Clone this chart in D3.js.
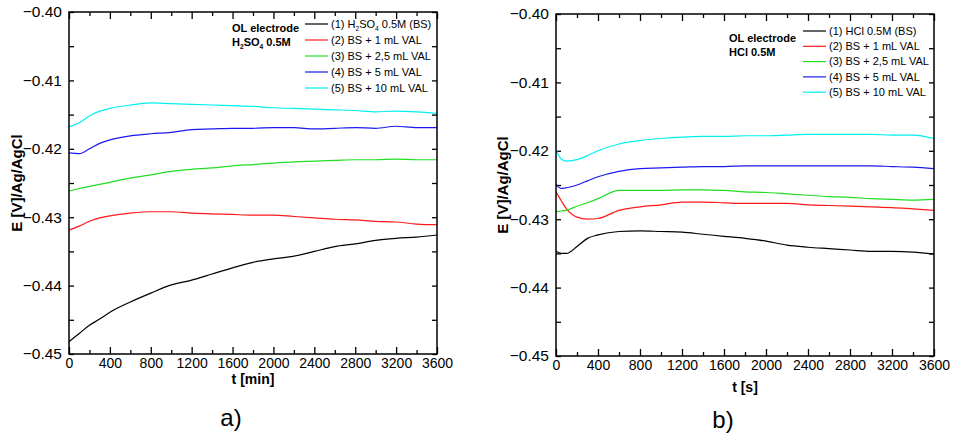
<!DOCTYPE html>
<html>
<head>
<meta charset="utf-8">
<script src="https://cdn.jsdelivr.net/npm/d3@7"></script>
<style>
  body { margin: 0; background: #fff; }
  svg { display: block; font-family: Arial, "Liberation Sans", sans-serif; }
</style>
</head>
<body>
<div id="chart"></div>
<script>
// Data
let timeA = [0, 100, 200, 300, 400, 600, 800, 1000, 1200, 1400, 1600, 1800, 2000, 2200, 2400, 2600, 2800, 3000, 3200, 3400, 3600];
let a_bs   = [-0.4482, -0.4470, -0.4458, -0.4449, -0.4439, -0.4424, -0.4411, -0.4399, -0.4392, -0.4383, -0.4374, -0.4366, -0.4361, -0.4357, -0.4350, -0.4343, -0.4339, -0.4334, -0.4331, -0.4329, -0.4326];
let a_1ml  = [-0.4319, -0.4313, -0.4306, -0.4301, -0.4298, -0.4294, -0.4292, -0.4292, -0.4294, -0.4295, -0.4296, -0.4297, -0.4297, -0.4299, -0.4301, -0.4303, -0.4304, -0.4306, -0.4307, -0.4310, -0.4311];
let a_25ml = [-0.4262, -0.4258, -0.4255, -0.4252, -0.4249, -0.4243, -0.4238, -0.4233, -0.4230, -0.4228, -0.4225, -0.4223, -0.4221, -0.4219, -0.4218, -0.4217, -0.4216, -0.4216, -0.4215, -0.4216, -0.4216];
let a_5ml  = [-0.4206, -0.4207, -0.4200, -0.4192, -0.4187, -0.4181, -0.4178, -0.4176, -0.4172, -0.4171, -0.4170, -0.4170, -0.4169, -0.4169, -0.4171, -0.4170, -0.4169, -0.4170, -0.4167, -0.4169, -0.4169];
let a_10ml = [-0.4168, -0.4162, -0.4152, -0.4145, -0.4141, -0.4136, -0.4133, -0.4134, -0.4135, -0.4136, -0.4137, -0.4138, -0.4140, -0.4141, -0.4142, -0.4143, -0.4144, -0.4146, -0.4145, -0.4146, -0.4148];

let timeB = [0, 50, 100, 200, 300, 400, 600, 800, 1000, 1200, 1400, 1600, 1800, 2000, 2200, 2400, 2600, 2800, 3000, 3200, 3400, 3600];
let b_bs   = [-0.4347, -0.4350, -0.4350, -0.4340, -0.4328, -0.4323, -0.4318, -0.4317, -0.4318, -0.4319, -0.4322, -0.4325, -0.4328, -0.4332, -0.4338, -0.4341, -0.4343, -0.4345, -0.4347, -0.4347, -0.4348, -0.4351];
let b_1ml  = [-0.4260, -0.4273, -0.4285, -0.4297, -0.4300, -0.4299, -0.4287, -0.4282, -0.4279, -0.4275, -0.4275, -0.4276, -0.4277, -0.4277, -0.4277, -0.4279, -0.4280, -0.4281, -0.4282, -0.4283, -0.4285, -0.4287];
let b_25ml = [-0.4289, -0.4288, -0.4287, -0.4281, -0.4276, -0.4270, -0.4258, -0.4258, -0.4258, -0.4257, -0.4257, -0.4258, -0.4260, -0.4261, -0.4263, -0.4265, -0.4267, -0.4268, -0.4270, -0.4271, -0.4272, -0.4271];
let b_5ml  = [-0.4249, -0.4255, -0.4254, -0.4250, -0.4244, -0.4238, -0.4230, -0.4226, -0.4225, -0.4224, -0.4223, -0.4223, -0.4222, -0.4222, -0.4222, -0.4222, -0.4222, -0.4222, -0.4222, -0.4223, -0.4224, -0.4226];
let b_10ml = [-0.4199, -0.4212, -0.4215, -0.4213, -0.4207, -0.4200, -0.4190, -0.4185, -0.4182, -0.4180, -0.4179, -0.4179, -0.4178, -0.4178, -0.4177, -0.4176, -0.4176, -0.4176, -0.4176, -0.4177, -0.4177, -0.4182];

let legendA = ['(1) H2SO4 0.5M (BS)', '(2) BS + 1 mL VAL', '(3) BS + 2,5 mL VAL', '(4) BS + 5 mL VAL', '(5) BS + 10 mL VAL'];
let legendB = ['(1) HCl 0.5M (BS)', '(2) BS + 1 mL VAL', '(3) BS + 2,5 mL VAL', '(4) BS + 5 mL VAL', '(5) BS + 10 mL VAL'];
let colors = ['#000000', '#ff1a1a', '#22dd22', '#1a1aee', '#00f0f0'];
let xTicks = [0, 400, 800, 1200, 1600, 2000, 2400, 2800, 3200, 3600];
let yTicks = [-0.45, -0.44, -0.43, -0.42, -0.41, -0.40];

let width = 957;
let height = 437;

let svg = d3.select('#chart')
	.append('svg')
	.attr('width', width)
	.attr('height', height);

svg.append('rect').attr('width', width).attr('height', height).attr('fill', '#fff');

function drawPanel(p) {
	let x = d3.scaleLinear().domain([0, 3600]).range([p.left, p.right]);
	let y = d3.scaleLinear().domain([-0.45, -0.40]).range([p.bottom, p.top]);
	let g = svg.append('g');

	let minorX = d3.range(200, 3600, 400);
	let minorY = [-0.445, -0.435, -0.425, -0.415, -0.405];

	// bottom axis with labels
	let bx = g.append('g')
		.attr('transform', 'translate(0,' + p.bottom + ')')
		.call(d3.axisBottom(x).tickValues(xTicks).tickSize(-7).tickPadding(4).tickFormat(d3.format('d')));
	bx.selectAll('text').attr('font-size', 14).attr('font-family', 'Arial, Liberation Sans, sans-serif').attr('fill', '#000');
	g.append('g')
		.attr('transform', 'translate(0,' + p.bottom + ')')
		.call(d3.axisBottom(x).tickValues(minorX).tickSize(-4).tickFormat(''));
	// top axis ticks
	g.append('g')
		.attr('transform', 'translate(0,' + p.top + ')')
		.call(d3.axisTop(x).tickValues(xTicks).tickSize(-7).tickFormat(''));
	g.append('g')
		.attr('transform', 'translate(0,' + p.top + ')')
		.call(d3.axisTop(x).tickValues(minorX).tickSize(-4).tickFormat(''));

	// left axis with labels
	let ly = g.append('g')
		.attr('transform', 'translate(' + p.left + ',0)')
		.call(d3.axisLeft(y).tickValues(yTicks).tickSize(-5).tickPadding(7).tickFormat(d3.format('.2f')));
	ly.selectAll('text').attr('font-size', 15.5).attr('font-family', 'Arial, Liberation Sans, sans-serif').attr('fill', '#000');
	g.append('g')
		.attr('transform', 'translate(' + p.left + ',0)')
		.call(d3.axisLeft(y).tickValues(minorY).tickSize(-5).tickFormat(''));
	// right axis ticks
	g.append('g')
		.attr('transform', 'translate(' + p.right + ',0)')
		.call(d3.axisRight(y).tickValues(yTicks.concat(minorY)).tickSize(-5).tickFormat(''));

	g.selectAll('.domain').remove();
	g.selectAll('.tick line').attr('stroke', '#000').attr('stroke-width', 1.3);

	// curves
	let line = d3.line()
		.x(function(d){ return x(d[0]); })
		.y(function(d){ return y(d[1]); })
		.curve(d3.curveMonotoneX);
	p.series.forEach(function(s, i){
		g.append('path')
			.attr('d', line(p.time.map(function(t, j){ return [t, s[j]]; })))
			.attr('fill', 'none')
			.attr('stroke', colors[i])
			.attr('stroke-width', 1.2);
	});

	// frame
	g.append('rect')
		.attr('x', p.left)
		.attr('y', p.top)
		.attr('width', p.right - p.left)
		.attr('height', p.bottom - p.top)
		.attr('fill', 'none')
		.attr('stroke', '#000')
		.attr('stroke-width', 1.5);

	// axis titles
	g.append('text')
		.text('E [V]/Ag/AgCl')
		.attr('transform', 'translate(' + p.yTitleX + ',' + ((p.top + p.bottom) / 2) + ') rotate(-90)')
		.attr('text-anchor', 'middle')
		.attr('dy', '0.35em')
		.attr('font-size', 15)
		.attr('font-weight', 'bold');
	g.append('text')
		.text(p.xTitle)
		.attr('x', (p.left + p.right) / 2)
		.attr('y', p.xTitleY)
		.attr('text-anchor', 'middle')
		.attr('font-size', 14)
		.attr('font-weight', 'bold');
	g.append('text')
		.text(p.tag)
		.attr('x', p.tagX)
		.attr('y', p.tagY)
		.attr('text-anchor', 'middle')
		.attr('font-size', 24);

	// note text
	g.append('text')
		.text('OL electrode')
		.attr('x', p.noteX)
		.attr('y', p.noteY)
		.attr('font-size', 11)
		.attr('font-weight', 'bold');
	let acid = g.append('text')
		.attr('x', p.noteX)
		.attr('y', p.noteY + 14)
		.attr('font-size', 11)
		.attr('font-weight', 'bold');
	writeAcid(acid, p.acid, 11);

	// legend
	p.legend.forEach(function(label, i){
		let ly0 = p.legY + i * p.legStep;
		g.append('line')
			.attr('x1', p.legX)
			.attr('x2', p.legX + 23)
			.attr('y1', ly0)
			.attr('y2', ly0)
			.attr('stroke', colors[i])
			.attr('stroke-width', 1.2);
		let t = g.append('text')
			.attr('x', p.legX + 26)
			.attr('y', ly0)
			.attr('dy', '0.35em')
			.attr('font-size', 11);
		writeAcid(t, label, 11);
	});
}

// writes text, putting the digits of H2SO4 as subscripts
function writeAcid(sel, str, size) {
	let idx = str.indexOf('H2SO4');
	if (idx < 0) { sel.text(str); return; }
	sel.append('tspan').text(str.slice(0, idx) + 'H');
	sel.append('tspan').text('2').attr('font-size', size * 0.6).attr('dy', size * 0.3);
	sel.append('tspan').text('SO').attr('dy', -size * 0.3);
	sel.append('tspan').text('4').attr('font-size', size * 0.6).attr('dy', size * 0.3);
	sel.append('tspan').text(str.slice(idx + 5)).attr('dy', -size * 0.3);
}

drawPanel({
	left: 69, right: 437, top: 12, bottom: 354,
	time: timeA,
	series: [a_bs, a_1ml, a_25ml, a_5ml, a_10ml],
	legend: legendA, legX: 305, legY: 24, legStep: 16,
	noteX: 232, noteY: 32, acid: 'H2SO4 0.5M',
	xTitle: 't [min]', xTitleY: 384,
	yTitleX: 17,
	tag: 'a)', tagX: 231, tagY: 426
});

drawPanel({
	left: 556, right: 934, top: 14, bottom: 356,
	time: timeB,
	series: [b_bs, b_1ml, b_25ml, b_5ml, b_10ml],
	legend: legendB, legX: 803, legY: 31, legStep: 15.3,
	noteX: 729, noteY: 42, acid: 'HCl 0.5M',
	xTitle: 't [s]', xTitleY: 392,
	yTitleX: 503,
	tag: 'b)', tagX: 723, tagY: 428
});
</script>
</body>
</html>
